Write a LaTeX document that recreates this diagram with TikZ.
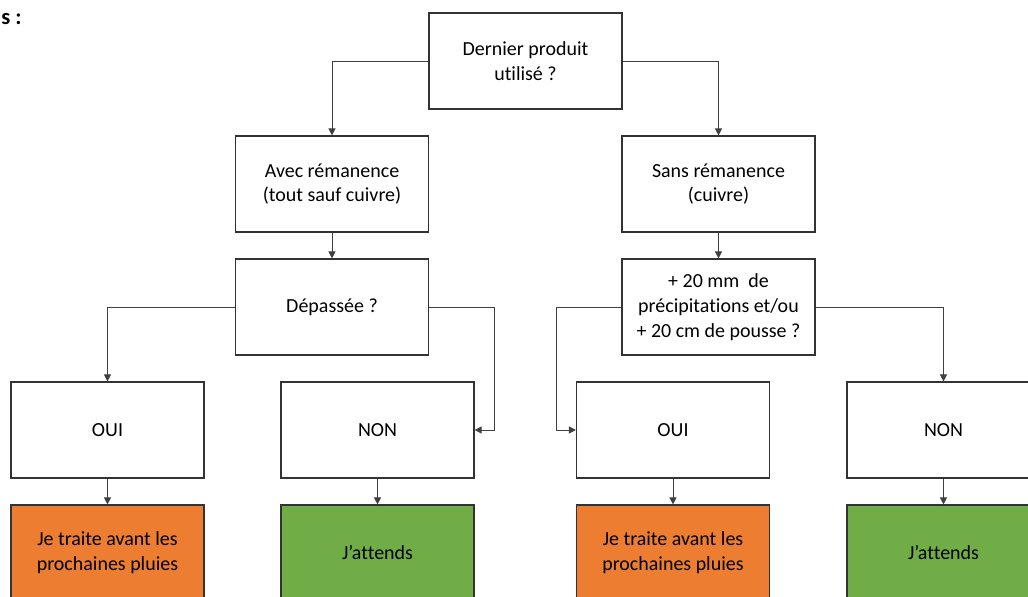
\documentclass[tikz,border=0pt]{standalone}
\usepackage{fontspec}
\setmainfont{Carlito}[Ligatures=NoCommon]
\usetikzlibrary{arrows.meta}

\definecolor{orangeof}{HTML}{ED7D31}
\definecolor{vertof}{HTML}{70AD47}

\begin{document}
\begin{tikzpicture}[x=0.025cm, y=-0.025cm,
    boite/.style={draw=black!80, line width=0.8pt, minimum width=4.825cm, minimum height=2.4cm,
        align=center, inner sep=0pt, font=\fontsize{14.2}{17.6}\selectfont},
    fleche/.style={draw=black!75, line width=0.7pt, -{Triangle[length=5pt, width=5pt]}}]
    \clip (0, 0) rectangle (1028, 597);
    \fill[white] (0, 0) rectangle (1028, 597);

    \node[anchor=base west, inner sep=0pt, font=\fontsize{16}{18}\selectfont\bfseries] (titre) at (1, 25) {s :};

    \node[boite] (q) at (525.5, 61) {Dernier produit\\utilisé ?};

    \node[boite] (avec) at (332, 184) {Avec rémanence\\(tout sauf cuivre)};
    \node[boite] (sans) at (718.5, 184) {Sans rémanence\\(cuivre)};

    \node[boite] (dep) at (332, 307) {Dépassée ?};
    \node[boite] (pluie) at (718.5, 307) {+ 20 mm\ \ de\\précipitations et/ou\\+ 20 cm de pousse ?};

    \node[boite] (oui1) at (107.5, 430) {OUI};
    \node[boite] (non1) at (377.5, 430) {NON};
    \node[boite] (oui2) at (673, 430) {OUI};
    \node[boite] (non2) at (943.5, 430) {NON};

    \node[boite, fill=orangeof] (act1) at (107.5, 553) {Je traite avant les\\prochaines pluies};
    \node[boite, fill=vertof] (act2) at (377.5, 553) {J’attends};
    \node[boite, fill=orangeof] (act3) at (673, 553) {Je traite avant les\\prochaines pluies};
    \node[boite, fill=vertof] (act4) at (943.5, 553) {J’attends};

    \draw[fleche] (q.west) -| (avec.north);
    \draw[fleche] (q.east) -| (sans.north);
    \draw[fleche] (avec) -- (dep);
    \draw[fleche] (sans) -- (pluie);

    \draw[fleche] (dep.west) -| (oui1.north);
    \draw[fleche] (dep.east) -- ++(65, 0) |- (non1.east);
    \draw[fleche] (pluie.west) -- ++(-65, 0) |- (oui2.west);
    \draw[fleche] (pluie.east) -| (non2.north);

    \foreach \a/\b in {oui1/act1, non1/act2, oui2/act3, non2/act4}
    {
        \draw[fleche] (\a) -- (\b);
    }
\end{tikzpicture}
\end{document}
